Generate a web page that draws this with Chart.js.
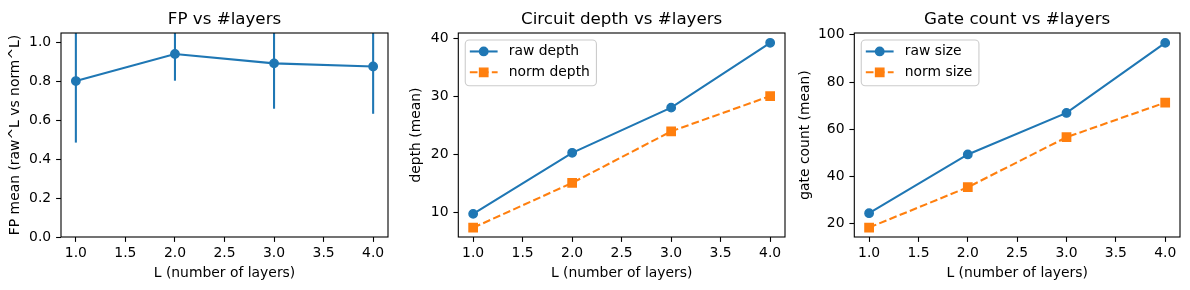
<!DOCTYPE html>
<html>
<head>
<meta charset="utf-8">
<script src="https://cdn.jsdelivr.net/npm/chart.js@4"></script>
<style>
html, body { margin: 0; padding: 0; background: #fff; }
#wrap { position: relative; width: 1190px; height: 290px; }
.panel { position: absolute; top: 0; height: 290px; }
</style>
</head>
<body>
<div id="wrap">
  <div class="panel" style="left:0px"><canvas id="fp" width="400" height="290"></canvas></div>
  <div class="panel" style="left:400px"><canvas id="depth" width="395" height="290"></canvas></div>
  <div class="panel" style="left:795px"><canvas id="size" width="395" height="290"></canvas></div>
</div>
<script>
// data
var layers = [1, 2, 3, 4];
var fpMean = [0.801, 0.940, 0.892, 0.876];
var fpErr = [0.316, 0.137, 0.233, 0.243];
var rawDepth = [9.75, 20.3, 28.1, 39.3];
var normDepth = [7.35, 15.1, 24.0, 30.1];
var rawSize = [24.4, 49.3, 66.9, 96.6];
var normSize = [18.3, 35.4, 56.6, 71.3];

var xTicks = [1.0, 1.5, 2.0, 2.5, 3.0, 3.5, 4.0];
var fpTicks = [0.0, 0.2, 0.4, 0.6, 0.8, 1.0];
var depthTicks = [10, 20, 30, 40];
var sizeTicks = [20, 40, 60, 80, 100];

var BLUE = "#1f77b4";
var ORANGE = "#ff7f0e";
var FONT = "DejaVu Sans";
var FS = 13.9;

Chart.defaults.font.family = FONT;
Chart.defaults.font.size = FS;
Chart.defaults.color = "#000";

function pts(ys) {
    return layers.map(function (x, i) { return { x: x, y: ys[i] }; });
}

// title, axes frame and an in-axes legend like matplotlib's
var framePlugin = {
    id: "frame",
    afterDraw: function (chart, args, opts) {
        var ctx = chart.ctx;
        var a = chart.chartArea;
        ctx.save();

        ctx.fillStyle = "#000";
        ctx.font = "16.7px '" + FONT + "'";
        ctx.textAlign = "center";
        ctx.textBaseline = "alphabetic";
        ctx.fillText(opts.title, (a.left + a.right) / 2, 24);

        ctx.strokeStyle = "#000";
        ctx.lineWidth = 1.1;
        ctx.strokeRect(a.left, a.top, a.right - a.left, a.bottom - a.top);

        if (opts.legend) {
            var items = chart.data.datasets.filter(function (d) { return d.label; });
            var pad = 0.4 * FS, hl = 2 * FS, htp = 0.8 * FS, ls = 0.5 * FS, bap = 0.5 * FS;
            ctx.font = FS + "px '" + FONT + "'";
            var tw = 0;
            items.forEach(function (d) { tw = Math.max(tw, ctx.measureText(d.label).width); });
            var bx = a.left + bap, by = a.top + bap;
            var bw = pad * 2 + hl + htp + tw;
            var bh = pad * 2 + items.length * FS + (items.length - 1) * ls;
            var r = 4;
            ctx.beginPath();
            ctx.moveTo(bx + r, by);
            ctx.arcTo(bx + bw, by, bx + bw, by + bh, r);
            ctx.arcTo(bx + bw, by + bh, bx, by + bh, r);
            ctx.arcTo(bx, by + bh, bx, by, r);
            ctx.arcTo(bx, by, bx + bw, by, r);
            ctx.closePath();
            ctx.fillStyle = "rgba(255,255,255,0.8)";
            ctx.fill();
            ctx.strokeStyle = "#cccccc";
            ctx.lineWidth = 1.1;
            ctx.stroke();

            items.forEach(function (d, i) {
                var cy = by + pad + FS / 2 - 1 + i * (FS + ls);
                var x0 = bx + pad - 1;
                ctx.strokeStyle = d.borderColor;
                ctx.lineWidth = d.borderWidth;
                ctx.setLineDash(d.borderDash || []);
                ctx.beginPath();
                ctx.moveTo(x0, cy);
                ctx.lineTo(x0 + hl, cy);
                ctx.stroke();
                ctx.setLineDash([]);
                ctx.fillStyle = d.backgroundColor;
                ctx.lineWidth = d.pointBorderWidth;
                Chart.helpers.drawPoint(ctx, {
                    pointStyle: d.pointStyle, radius: d.pointRadius, rotation: 0,
                    borderWidth: d.pointBorderWidth
                }, x0 + hl / 2, cy);
                ctx.fillStyle = "#000";
                ctx.textAlign = "left";
                ctx.textBaseline = "middle";
                ctx.fillText(d.label, x0 + hl + htp, cy);
            });
        }
        ctx.restore();
    }
};

function seriesStyle(label, color, style, dashed) {
    return {
        label: label,
        borderColor: color,
        backgroundColor: color,
        borderWidth: 2.08,
        borderDash: dashed ? [7.7, 3.3] : [],
        pointStyle: style,
        pointRadius: style === "rect" ? 5.9 : 4.2,
        pointBorderWidth: 1.4,
        pointBackgroundColor: color,
        pointBorderColor: color,
        tension: 0
    };
}

function makeChart(id, cfg) {
    var yW = cfg.yWidth;
    return new Chart(document.getElementById(id), {
        type: "line",
        data: { datasets: cfg.datasets },
        plugins: [framePlugin],
        options: {
            responsive: false,
            animation: false,
            events: [],
            layout: { padding: { left: 0, top: 33, right: cfg.rightPad, bottom: 0 } },
            plugins: {
                legend: { display: false },
                tooltip: { enabled: false },
                frame: { title: cfg.title, legend: cfg.legend }
            },
            scales: {
                x: {
                    type: "linear",
                    min: 0.85,
                    max: 4.15,
                    afterBuildTicks: function (s) { s.ticks = xTicks.map(function (v) { return { value: v }; }); },
                    afterFit: function (s) { s.height = 53; s.paddingLeft = 0; s.paddingRight = 0; },
                    ticks: { padding: 3, maxRotation: 0, callback: function (v) { return v.toFixed(1); } },
                    grid: { drawOnChartArea: false, drawTicks: true, tickLength: 4.9, tickColor: "#000", tickWidth: 1.1 },
                    border: { display: false },
                    title: { display: true, text: "L (number of layers)", padding: { top: 0, bottom: 8 } }
                },
                y: {
                    type: "linear",
                    min: cfg.yMin,
                    max: cfg.yMax,
                    afterBuildTicks: function (s) { s.ticks = cfg.yTicks.map(function (v) { return { value: v }; }); },
                    afterFit: function (s) { s.width = yW; s.paddingTop = 0; s.paddingBottom = 0; },
                    ticks: { padding: 4.9, callback: cfg.yFmt },
                    grid: { drawOnChartArea: false, drawTicks: true, tickLength: 4.9, tickColor: "#000", tickWidth: 1.1 },
                    border: { display: false },
                    title: { display: true, text: cfg.yTitle, padding: { top: cfg.yTitlePad, bottom: 0 } }
                }
            }
        }
    });
}

// panel 1: FP with error bars
var fpDatasets = [seriesStyle("", BLUE, "circle", false)];
fpDatasets[0].data = pts(fpMean);
layers.forEach(function (x, i) {
    fpDatasets.push({
        label: "",
        data: [{ x: x, y: fpMean[i] - fpErr[i] }, { x: x, y: fpMean[i] + fpErr[i] }],
        borderColor: BLUE,
        borderWidth: 2.08,
        pointRadius: 0,
        clip: 0
    });
});

makeChart("fp", {
    title: "FP vs #layers",
    datasets: fpDatasets,
    legend: false,
    yMin: 0, yMax: 1.048,
    yTicks: fpTicks,
    yFmt: function (v) { return v.toFixed(1); },
    yTitle: "FP mean (raw^L vs norm^L)",
    yTitlePad: 6.7,
    yWidth: 61,
    rightPad: 12
});

var depthRaw = seriesStyle("raw depth", BLUE, "circle", false);
depthRaw.data = pts(rawDepth);
var depthNorm = seriesStyle("norm depth", ORANGE, "rect", true);
depthNorm.data = pts(normDepth);
makeChart("depth", {
    title: "Circuit depth vs #layers",
    datasets: [depthRaw, depthNorm],
    legend: true,
    yMin: 5.75, yMax: 41.0,
    yTicks: depthTicks,
    yFmt: function (v) { return String(v); },
    yTitle: "depth (mean)",
    yTitlePad: 8.3,
    yWidth: 58.3,
    rightPad: 10
});

var sizeRaw = seriesStyle("raw size", BLUE, "circle", false);
sizeRaw.data = pts(rawSize);
var sizeNorm = seriesStyle("norm size", ORANGE, "rect", true);
sizeNorm.data = pts(normSize);
makeChart("size", {
    title: "Gate count vs #layers",
    datasets: [sizeRaw, sizeNorm],
    legend: true,
    yMin: 14.3, yMax: 100.8,
    yTicks: sizeTicks,
    yFmt: function (v) { return String(v); },
    yTitle: "gate count (mean)",
    yTitlePad: 1.7,
    yWidth: 59.3,
    rightPad: 10
});
</script>
</body>
</html>
